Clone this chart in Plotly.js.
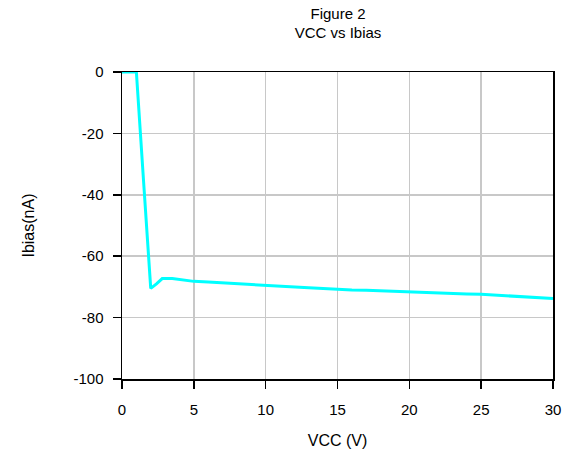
<!DOCTYPE html>
<html><head><meta charset="utf-8">
<script src="https://cdn.plot.ly/plotly-3.0.1.min.js"></script>
<style>html,body{margin:0;padding:0;background:#fff;}#chart{width:570px;height:473px;}</style>
</head><body><div id="chart"></div>
<script>
var vcc = [0, 0.5, 1, 1.5, 2, 2.4, 2.8, 3.5, 4, 5, 6, 7, 8, 9, 10, 11, 12, 13, 14, 15, 16, 17, 18, 19, 20, 21, 22, 23, 24, 25, 26, 27, 28, 29, 30];
var ibias = [0, 0, 0, -35.5, -70.5, -69, -67.3, -67.3, -67.6, -68.2, -68.4, -68.7, -69.0, -69.3, -69.6, -69.8, -70.0, -70.3, -70.5, -70.8, -71.0, -71.1, -71.3, -71.5, -71.6, -71.8, -71.9, -72.1, -72.3, -72.4, -72.7, -72.9, -73.2, -73.5, -73.8];
var xTicks = [0, 5, 10, 15, 20, 25, 30];
var yTicks = [0, -20, -40, -60, -80, -100];

var fontFam = 'Liberation Sans, Arial, sans-serif';
Plotly.newPlot('chart', [{
  x: vcc, y: ibias, mode: 'lines', type: 'scatter',
  line: {color: '#00FFFF', width: 3}, hoverinfo: 'skip'
}], {
  width: 570, height: 473,
  margin: {l: 122, r: 17, t: 72, b: 94},
  paper_bgcolor: '#fff', plot_bgcolor: '#fff',
  showlegend: false,
  font: {family: fontFam, size: 15, color: '#000'},
  title: {text: 'Figure 2<br>VCC vs Ibias', x: 0.593, xanchor: 'center', y: 0.96, yanchor: 'top', font: {family: fontFam, size: 15, color: '#000'}},
  xaxis: {
    range: [0, 30], tickvals: xTicks, ticktext: xTicks.map(String),
    showgrid: true, gridcolor: '#c8c8c8', gridwidth: 1.5,
    ticks: 'outside', ticklen: 8, tickwidth: 1.5, tickcolor: '#000',
    ticklabelstandoff: 8,
    showline: true, linecolor: '#000', linewidth: 1.5, mirror: true,
    zeroline: false,
    title: {text: 'VCC (V)', standoff: 18, font: {family: fontFam, size: 16}}
  },
  yaxis: {
    range: [-100, 0], tickvals: yTicks, ticktext: yTicks.map(String),
    showgrid: true, gridcolor: '#c8c8c8', gridwidth: 1.5,
    ticks: 'outside', ticklen: 8, tickwidth: 1.5, tickcolor: '#000',
    ticklabelstandoff: 6,
    showline: true, linecolor: '#000', linewidth: 1.5, mirror: true,
    zeroline: false,
    title: {text: 'Ibias(nA)', standoff: 35, font: {family: fontFam, size: 16}}
  }
}, {staticPlot: true, displayModeBar: false});
</script></body></html>
